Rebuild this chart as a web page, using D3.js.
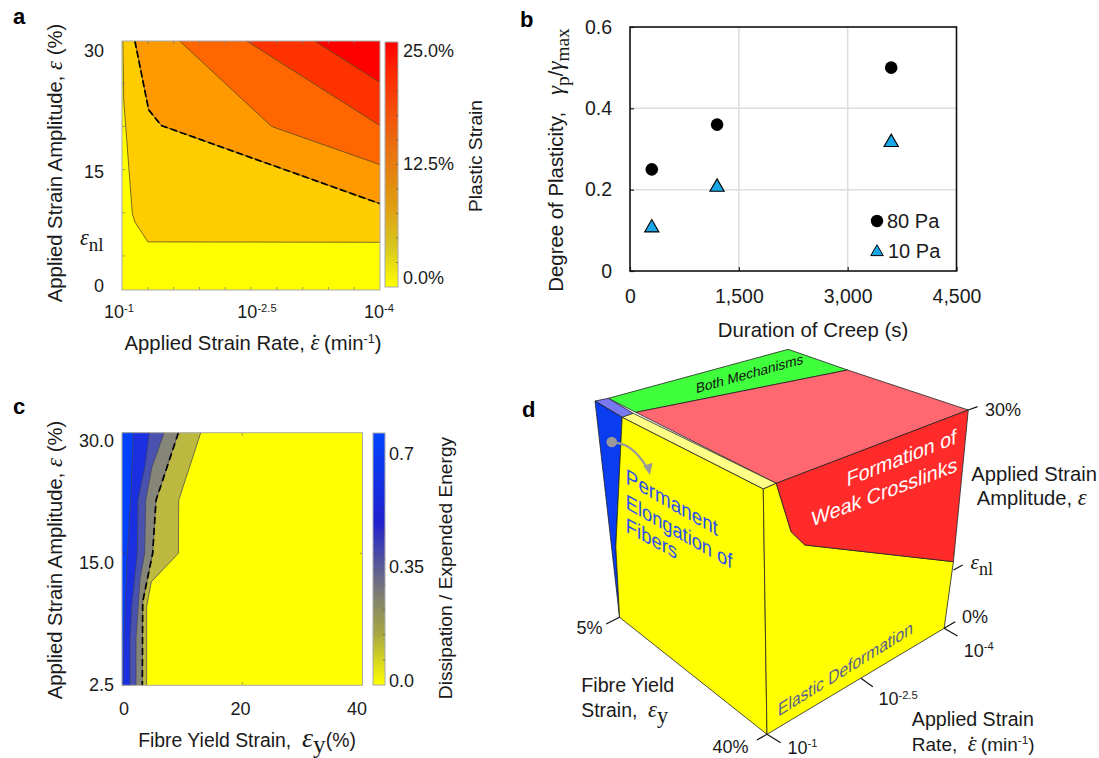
<!DOCTYPE html>
<html><head><meta charset="utf-8">
<style>
html,body{margin:0;padding:0;background:#fff}
svg{display:block}
text{font-family:"Liberation Sans",Arial,sans-serif;fill:#1a1a1a}
.plain .domain{display:none}
</style>
<script src="https://cdn.jsdelivr.net/npm/d3@7/dist/d3.min.js"></script>
</head><body><svg id="c" width="1099" height="758"></svg>
<script>
// ---------- data ----------
// panel a: contours, [log10 strain rate, strain amplitude %]
const aContour1 = [[-1.01,30],[-1.02,22.9],[-1.12,9.2],[-1.15,8.2],[-1.30,5.8],[-4,5.75]];
const aContour2 = [[-1.15,30],[-1.31,21.7],[-1.46,19.8],[-4,10.4]];
const aContour3 = [[-1.67,30],[-2.74,19.7],[-4,15.1]];
const aContour4 = [[-2.45,30],[-4,19.8]];
const aContour5 = [[-3.24,30],[-4,25]];
const aFills = ["#ffcc00","#ff9900","#ff6600","#ff3300","#ff0000"];
const aBarStops = [[0,"#ffff00"],[0.16,"#d8c820"],[0.35,"#e09a10"],[0.6,"#ea6a10"],[0.87,"#ff2a00"],[1,"#ff0000"]];
const aXMinor = [-1.3,-1.6,-1.9,-2.2,-2.5,-2.8,-3.1,-3.4,-3.7];
const aYMinor = [4.1,9.3,14.5,19.7,24.9];
const aBarTickVals = [2.5,5,7.5,10,12.5,15,17.5,20,22.5];
const aBarLabels = [[0,"0.0%"],[12.5,"12.5%"],[25,"25.0%"]];

// panel b
const creepTime = [300,1200,3600];
const plastic80 = [0.25,0.36,0.5];
const plastic10 = [0.11,0.21,0.32];
const bXTicks = [0,1500,3000,4500];
const bYTicks = [0,0.2,0.4,0.6];

// panel c: contours, [fibre yield strain %, strain amplitude %]
const cB1 = [[1.89,30],[1.44,21.6],[0.89,15],[0.44,8.84],[0.22,5.05],[0.22,2.5]];
const cB2 = [[4.55,30],[3.88,26],[2.66,21.6],[2.55,15],[1.66,10.1],[1.33,6.63],[1.33,2.5]];
const cB3 = [[6.99,30],[4.94,25.6],[3.94,21.6],[3.77,15],[3.0,12.6],[2.33,6.95],[2.33,2.5]];
const cB4 = [[9.38,30],[5.66,21.6],[5.1,15],[3.44,10.4],[3.38,2.5]];
const cB5 = [[13.1,30],[9.43,21.6],[9.38,15],[4.88,12.3],[4.1,9.95],[4.1,2.5]];
const cFills = ["#bcb840","#868678","#4a52b0","#1a30e0","#0040ff"];
const cBarStops = [[0,"#ffff00"],[0.2,"#a8a840"],[0.35,"#808070"],[0.5,"#5050a0"],[0.65,"#2020d0"],[1,"#0044ff"]];
const cBarTickVals = [0.08,0.16,0.24,0.32,0.4,0.48,0.56,0.64];
const cBarLabels = [[0,"0.0"],[0.35,"0.35"],[0.7,"0.7"]];

// panel d: schematic outlines in the schematic's own units
const dTopGreen = [[238,175],[722,28],[882,90],[312,217]];
const dTopViolet = [[202,183],[238,175],[305,220],[275,232]];
const dTopPink = [[312,217],[882,90],[1207,210],[690,430]];
const dTopPale = [[275,232],[305,220],[690,430],[655,447]];
const dLeftBlue = [[202,183],[275,232],[258,620],[268,832]];
const dLeftYellow = [[275,232],[655,447],[665,1183],[268,832],[258,620]];
const dRightYellow = [[655,447],[690,430],[730,575],[767,615],[1167,665],[1142,865],[665,1183]];
const dRightRed = [[690,430],[1207,210],[1167,665],[767,615],[730,575]];
const dTicks = [[[1207,210],[1232,200]],[[1167,690],[1192,675]],[[1142,865],[1172,845]],[[1142,865],[1178,888]],
  [[918,1015],[950,1040]],[[665,1183],[638,1200]],[[665,1183],[702,1208]],[[268,832],[232,852]]];

// ---------- helpers ----------
const svg = d3.select("#c");
const SANS='"Liberation Sans",Arial,sans-serif', SERIF='"Liberation Serif",serif';
function rich(sel, parts, fs){
  let shift=0;
  parts.forEach(p=>{
    const [t,k]=p, ts=sel.append("tspan").text(t);
    let target=0, size=fs;
    if(k==="m"){ts.attr("font-family",SERIF).attr("font-style","italic");size=fs*1.12;}
    if(k==="M"){ts.attr("font-family",SERIF).attr("font-style","italic");size=fs*1.45;}
    if(k==="E"){ts.attr("font-family",SERIF).attr("font-style","italic");size=fs*1.18;}
    if(k==="sub"){ts.attr("font-family",SERIF);target=fs*0.28;size=fs*0.95;}
    if(k==="Sub"){ts.attr("font-family",SERIF);target=fs*0.3;size=fs*1.3;}
    if(k==="ESub"){ts.attr("font-family",SERIF);target=fs*0.3;size=fs*1.15;}
    if(k==="sup"){target=-fs*0.36;size=fs*0.62;}
    if(k==="dot"){ts.attr("font-family",SERIF).attr("dx",-fs*0.43);size=fs*1.12;target=-fs*0.02;}
    ts.attr("font-size",size).attr("dy",target-shift);
    shift=target;
  });
  return sel;
}
function label(x,y,parts,fs,o={}){
  const t=svg.append("text").attr("x",x).attr("y",y).attr("text-anchor",o.anchor||"start").attr("font-size",fs).style("white-space","pre");
  if(o.rotate) t.attr("transform",`rotate(-90 ${x} ${y})`);
  return rich(t,typeof parts==="string"?[[parts]]:parts,fs);
}
function gradient(id,stops){
  const g=svg.append("defs").append("linearGradient").attr("id",id).attr("x1",0).attr("x2",0).attr("y1",1).attr("y2",0);
  stops.forEach(s=>g.append("stop").attr("offset",s[0]).attr("stop-color",s[1]));
}
function colorbar(id,x0,x1,y,ticks,stops){
  gradient(id,stops);
  svg.append("rect").attr("x",x0).attr("width",x1-x0).attr("y",y.range()[1]).attr("height",y.range()[0]-y.range()[1])
    .attr("fill",`url(#${id})`).attr("stroke","#aaa").attr("stroke-width",1);
  svg.append("g").selectAll("line").data(ticks).join("line")
    .attr("x1",x1-2).attr("x2",x1).attr("y1",d=>y(d)).attr("y2",d=>y(d)).attr("stroke","#555").attr("stroke-width",.7);
}
["a",13,24,"b",520,27,"c",13,414,"d",522,417].forEach((v,i,a)=>{ if(i%3===0)
  svg.append("text").attr("x",a[i+1]).attr("y",a[i+2]).attr("font-size",22).attr("font-weight","bold").style("fill","#000").text(v);});

// ---------- panel a ----------
{
 const x=d3.scaleLinear([-1,-4],[122,380]), y=d3.scaleLinear([0,30],[290,41]);
 const line=d3.line(d=>x(d[0]),d=>y(d[1]));
 svg.append("rect").attr("x",122).attr("y",41).attr("width",258).attr("height",249).attr("fill","#ffff00");
 const cs=[aContour1,aContour2,aContour3,aContour4,aContour5];
 cs.forEach((c,i)=>{
   svg.append("path").attr("d",line([...c,[-4,30]])+"Z").attr("fill",aFills[i]);
   svg.append("path").attr("d",line(c)).attr("fill","none").attr("stroke","#5a4a20").attr("stroke-width",.8);
 });
 svg.append("path").attr("d",line(aContour2)).attr("fill","none").attr("stroke","#000").attr("stroke-width",1.7).attr("stroke-dasharray","7 3");
 svg.append("g").selectAll("line").data(aXMinor).join("line").attr("x1",x).attr("x2",x).attr("y1",290).attr("y2",287).attr("stroke","#777").attr("stroke-width",.7);
 svg.append("g").selectAll("line").data(aXMinor).join("line").attr("x1",x).attr("x2",x).attr("y1",41).attr("y2",44).attr("stroke","#777").attr("stroke-width",.7);
 svg.append("g").selectAll("line").data(aYMinor).join("line").attr("y1",y).attr("y2",y).attr("x1",122).attr("x2",125).attr("stroke","#777").attr("stroke-width",.7);
 svg.append("rect").attr("x",122).attr("y",41).attr("width",258).attr("height",249).attr("fill","none").attr("stroke","#aaa").attr("stroke-width",1);
 const yl=d3.scaleLinear([0,15,30],[285,171,50]);
 [0,15,30].forEach(v=>label(104,yl(v)+6.5,String(v),18,{anchor:"end"}));
 label(80,245,[["ε","m"],["nl","sub"]],20);
 const xl=d3.scaleLinear([-1,-2.5,-4],[119,257,379]);
 [[-1,"-1"],[-2.5,"-2.5"],[-4,"-4"]].forEach(v=>label(xl(v[0]),318,[["10"],[v[1],"sup"]],18,{anchor:"middle"}));
 label(62,163,[["Applied Strain Amplitude, "],["ε","m"],[" (%)"]],20.3,{anchor:"middle",rotate:true});
 label(253,350,[["Applied Strain Rate, "],["ε","m"],["˙","dot"],[" (min"],["-1","sup"],[")"]],20.3,{anchor:"middle"});
 const by=d3.scaleLinear([0,25],[287,42]);
 colorbar("barA",385,398,by,aBarTickVals,aBarStops);
 const bl=d3.scaleLinear([0,25],[277,50]);
 aBarLabels.forEach(v=>label(403,bl(v[0])+6.5,v[1],18));
 label(482,156,"Plastic Strain",19.2,{anchor:"middle",rotate:true});
}

// ---------- panel b ----------
{
 const x=d3.scaleLinear([0,4500],[630,956.5]), y=d3.scaleLinear([0,0.6],[271,27]);
 const g=svg.append("g");
 g.append("g").selectAll("line").data(bXTicks.slice(1,3)).join("line").attr("x1",x).attr("x2",x).attr("y1",27).attr("y2",271).attr("stroke","#ddd").attr("stroke-width",1.5);
 g.append("g").selectAll("line").data(bYTicks.slice(1,3)).join("line").attr("y1",y).attr("y2",y).attr("x1",630).attr("x2",956.5).attr("stroke","#ddd").attr("stroke-width",1.5);
 const ax=g.append("g").attr("transform","translate(0,271)").call(d3.axisBottom(x).tickValues(bXTicks).tickFormat(d3.format(",")).tickSizeInner(-4).tickSizeOuter(0).tickPadding(18));
 const ay=g.append("g").attr("transform","translate(630,0)").call(d3.axisLeft(y).tickValues(bYTicks).tickFormat(d=>d===0?"0":d3.format(".1f")(d)).tickSizeInner(-4).tickSizeOuter(0).tickPadding(18));
 [ax,ay].forEach(a=>{a.classed("plain",true);a.selectAll("text").attr("font-size",19.5).attr("font-family",SANS).style("fill","#1a1a1a");a.selectAll("line").attr("stroke","#222").attr("stroke-width",1.2);});
 g.append("rect").attr("x",630).attr("y",27).attr("width",326.5).attr("height",244).attr("fill","none").attr("stroke","#111").attr("stroke-width",1.6);
 g.selectAll("circle.p").data(creepTime).join("circle").attr("class","p").attr("cx",d=>x(d)).attr("cy",(d,i)=>y(plastic80[i])).attr("r",6.3).attr("fill","#000");
 const tri=d3.symbol(d3.symbolTriangle,88)();
 g.selectAll("path.t").data(creepTime).join("path").attr("class","t").attr("d",tri).attr("transform",(d,i)=>`translate(${x(d)},${y(plastic10[i])+1.5})`).attr("fill","#1aa7e8").attr("stroke","#000").attr("stroke-width",1.1);
 g.append("circle").attr("cx",877).attr("cy",221).attr("r",6.2).attr("fill","#000");
 g.append("path").attr("d",d3.symbol(d3.symbolTriangle,68)()).attr("transform","translate(877,252)").attr("fill","#1aa7e8").attr("stroke","#000").attr("stroke-width",1);
 label(887,228,"80 Pa",20); label(888,258,"10 Pa",20);
 label(813,337,"Duration of Creep (s)",20.4,{anchor:"middle"});
 label(563,160,[["Degree of Plasticity,   "],["γ","m"],["p","sub"],["/"],["γ","m"],["max","sub"]],20.4,{anchor:"middle",rotate:true});
}

// ---------- panel c ----------
{
 const x=d3.scaleLinear([0,40],[122,362.5]), y=d3.scaleLinear([2.5,15,30],[685.3,553.3,432.7]);
 const line=d3.line(d=>x(d[0]),d=>y(d[1]));
 svg.append("rect").attr("x",122).attr("y",432.7).attr("width",240.5).attr("height",252.6).attr("fill","#ffff00");
 [cB5,cB4,cB3,cB2,cB1].forEach((c,i)=>{
   svg.append("path").attr("d",line([...c,[0,2.5],[0,30]])+"Z").attr("fill",cFills[i]);
   svg.append("path").attr("d",line(c)).attr("fill","none").attr("stroke","#40405a").attr("stroke-width",.7);
 });
 svg.append("path").attr("d",line(cB4)).attr("fill","none").attr("stroke","#000").attr("stroke-width",1.7).attr("stroke-dasharray","7 4");
 [20].forEach(v=>{svg.append("line").attr("x1",x(v)).attr("x2",x(v)).attr("y1",685).attr("y2",682).attr("stroke","#777").attr("stroke-width",.7);
   svg.append("line").attr("x1",x(v)).attr("x2",x(v)).attr("y1",433).attr("y2",436).attr("stroke","#777").attr("stroke-width",.7);});
 svg.append("line").attr("x1",122).attr("x2",125).attr("y1",y(15)).attr("y2",y(15)).attr("stroke","#333").attr("stroke-width",.7);
 svg.append("line").attr("x1",360).attr("x2",362.5).attr("y1",y(15)).attr("y2",y(15)).attr("stroke","#777").attr("stroke-width",.7);
 svg.append("rect").attr("x",122).attr("y",432.7).attr("width",240.5).attr("height",252.6).attr("fill","none").attr("stroke","#aaa").attr("stroke-width",1);
 const yl=d3.scaleLinear([2.5,15,30],[684,562,440]);
 [[2.5,"2.5"],[15,"15.0"],[30,"30.0"]].forEach(v=>label(114,yl(v[0])+6.5,v[1],18,{anchor:"end"}));
 const xl=d3.scaleLinear([0,40],[124,357]);
 [0,20,40].forEach(v=>label(xl(v),715,String(v),18,{anchor:"middle"}));
 label(62,560,[["Applied Strain Amplitude, "],["ε","m"],[" (%)"]],20.3,{anchor:"middle",rotate:true});
 label(247,747,[["Fibre Yield Strain,  "],["ε","M"],["y","Sub"],["(%)"]],19.4,{anchor:"middle"});
 const by=d3.scaleLinear([0,0.8],[685,433]);
 colorbar("barC",373,385,by,cBarTickVals,cBarStops);
 const bl=d3.scaleLinear([0,0.7],[680,453]);
 cBarLabels.forEach(v=>label(389,bl(v[0])+6.5,v[1],18));
 label(452,568,"Dissipation / Expended Energy",19.2,{anchor:"middle",rotate:true});
}

// ---------- panel d ----------
{
 const sx=d3.scaleLinear([0,1559],[520,1099]), sy=d3.scaleLinear([0,1254],[340,758]);
 const poly=d3.line(d=>sx(d[0]),d=>sy(d[1]));
 [[dTopGreen,"#40ff3c"],[dTopViolet,"#7878f0"],[dTopPink,"#ff6870"],[dTopPale,"#ffff88"],
  [dLeftBlue,"#0a3cf0"],[dLeftYellow,"#ffff00"],[dRightYellow,"#ffff00"],[dRightRed,"#ff2a2a"]].forEach(p=>{
   svg.append("path").attr("d",poly(p[0])+"Z").attr("fill",p[1]).attr("stroke","#222").attr("stroke-width",.8).attr("stroke-linejoin","round");
 });
 svg.append("g").selectAll("line").data(dTicks).join("line")
  .attr("x1",d=>sx(d[0][0])).attr("y1",d=>sy(d[0][1])).attr("x2",d=>sx(d[1][0])).attr("y2",d=>sy(d[1][1])).attr("stroke","#111").attr("stroke-width",1.2);
 // arrow
 svg.append("path").attr("d",d3.line(d=>sx(d[0]),d=>sy(d[1])).curve(d3.curveBasis)([[247,306],[285,312],[320,345],[345,388]])).attr("fill","none").attr("stroke","#999").attr("stroke-width",2.2);
 svg.append("path").attr("d",poly([[332,378],[357,368],[350,405]])+"Z").attr("fill","#999");
 svg.append("circle").attr("cx",sx(247)).attr("cy",sy(306)).attr("r",5.3).attr("fill","#999");
 // sheared text on faces
 function faceText(t,p0,p1,fs,fill){
   const x0=sx(p0[0]),y0=sy(p0[1]),dx=sx(p1[0])-x0,dy=sy(p1[1])-y0,l=Math.hypot(dx,dy);
   svg.append("text").attr("transform",`matrix(${dx/l},${dy/l},0,1,${x0},${y0})`).attr("font-size",fs).style("fill",fill).text(t);
 }
 faceText("Both Mechanisms",[474,160],[758,72],14,"#111");
 faceText("Permanent",[285,430],[535,590],21.7,"#2a50f0");
 faceText("Elongation of",[285,505],[575,690],21,"#2a50f0");
 faceText("Fibers",[285,575],[425,660],21,"#2a50f0");
 faceText("Formation of",[880,440],[1175,310],21,"#fff");
 faceText("Weak Crosslinks",[785,560],[1175,395],21,"#fff");
 faceText("Elastic Deformation",[695,1130],[1050,885],18.3,"#5a5f90");
 const L=(zx,zy,parts,fs)=>label(sx(zx),sy(zy),parts,fs||18);
 L(1252,228,"30%"); L(1215,422,"Applied Strain",20.2); L(1230,495,[["Amplitude, "],["ε","m"]],20.2);
 L(1213,688,[["ε","m"],["nl","sub"]],19); L(1190,850,"0%"); L(1195,950,[["10"],["-4","sup"]]);
 L(965,1095,[["10"],["-2.5","sup"]]); L(1055,1157,"Applied Strain",19.6);
 L(1055,1233,[["Rate,  "],["ε","E"],["˙","dot"],[" (min"],["-1","sup"],[")"]],19);
 L(720,1241,[["10"],["-1","sup"]]); L(518,1240,"40%");
 L(165,1055,"Fibre Yield",19.7); L(165,1131,[["Strain,  "],["ε","E"],["y","ESub"]],19.4); L(152,882,"5%");
}
</script></body></html>
